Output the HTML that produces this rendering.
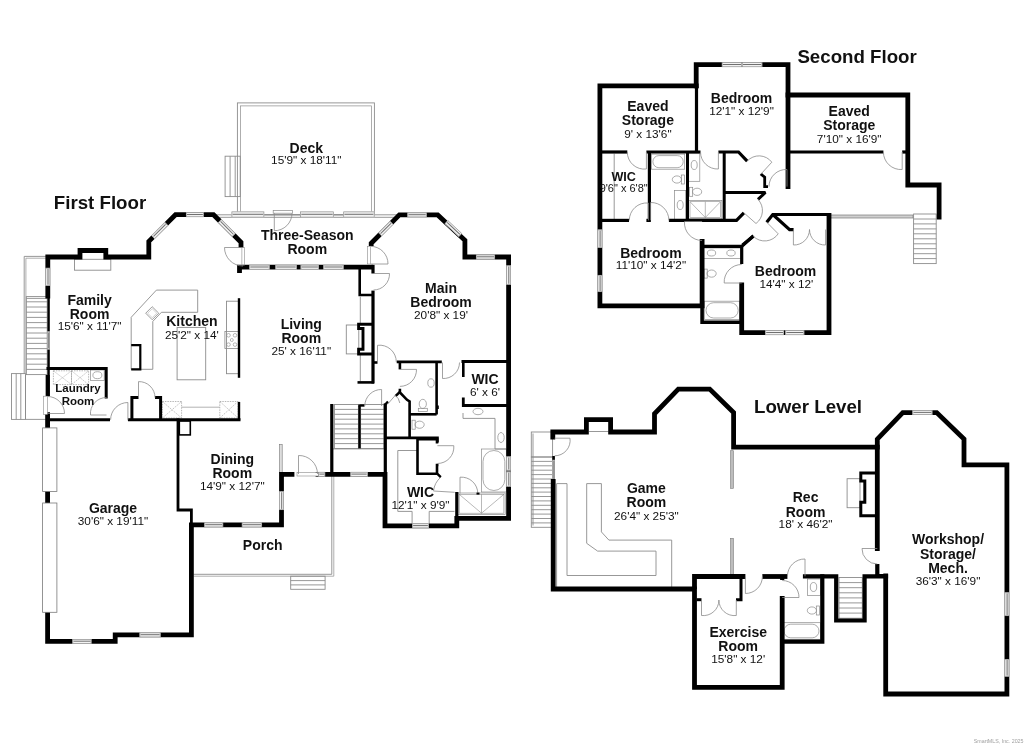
<!DOCTYPE html>
<html><head><meta charset="utf-8"><style>
html,body{margin:0;padding:0;background:#fff;}
body{width:1024px;height:745px;overflow:hidden;}
svg{display:block;font-family:"Liberation Sans",sans-serif;will-change:transform;}
</style></head><body>
<svg width="1024" height="745" viewBox="0 0 1024 745">
<rect width="1024" height="745" fill="#fff"/>
<rect x="237.4" y="102.9" width="137.0" height="111.9" fill="none" stroke="#8c8c8c" stroke-width="0.9"/>
<rect x="240.6" y="105.9" width="130.8" height="108.9" fill="none" stroke="#8c8c8c" stroke-width="0.7"/>
<rect x="225.1" y="156.2" width="15.1" height="40.4" fill="none" stroke="#8c8c8c" stroke-width="0.9"/>
<line x1="230.1" y1="156.2" x2="230.1" y2="196.6" stroke="#8c8c8c" stroke-width="0.9"/>
<line x1="235.2" y1="156.2" x2="235.2" y2="196.6" stroke="#8c8c8c" stroke-width="0.9"/>
<line x1="214.0" y1="214.8" x2="400.0" y2="214.8" stroke="#8c8c8c" stroke-width="0.9"/>
<line x1="214.0" y1="217.3" x2="400.0" y2="217.3" stroke="#8c8c8c" stroke-width="0.9"/>
<polyline points="47.0,256.4 24.2,256.4 24.2,373.6" fill="none" stroke="#8c8c8c" stroke-width="0.9"/>
<polyline points="46.0,258.2 25.9,258.2 25.9,373.6" fill="none" stroke="#8c8c8c" stroke-width="0.7"/>
<rect x="26.3" y="296.6" width="20.9" height="78.0" fill="none" stroke="#8c8c8c" stroke-width="0.9"/>
<line x1="26.3" y1="301.8" x2="47.2" y2="301.8" stroke="#8c8c8c" stroke-width="0.9"/>
<line x1="26.3" y1="307.0" x2="47.2" y2="307.0" stroke="#8c8c8c" stroke-width="0.9"/>
<line x1="26.3" y1="312.2" x2="47.2" y2="312.2" stroke="#8c8c8c" stroke-width="0.9"/>
<line x1="26.3" y1="317.4" x2="47.2" y2="317.4" stroke="#8c8c8c" stroke-width="0.9"/>
<line x1="26.3" y1="322.6" x2="47.2" y2="322.6" stroke="#8c8c8c" stroke-width="0.9"/>
<line x1="26.3" y1="327.8" x2="47.2" y2="327.8" stroke="#8c8c8c" stroke-width="0.9"/>
<line x1="26.3" y1="333.0" x2="47.2" y2="333.0" stroke="#8c8c8c" stroke-width="0.9"/>
<line x1="26.3" y1="338.2" x2="47.2" y2="338.2" stroke="#8c8c8c" stroke-width="0.9"/>
<line x1="26.3" y1="343.4" x2="47.2" y2="343.4" stroke="#8c8c8c" stroke-width="0.9"/>
<line x1="26.3" y1="348.6" x2="47.2" y2="348.6" stroke="#8c8c8c" stroke-width="0.9"/>
<line x1="26.3" y1="353.8" x2="47.2" y2="353.8" stroke="#8c8c8c" stroke-width="0.9"/>
<line x1="26.3" y1="359.0" x2="47.2" y2="359.0" stroke="#8c8c8c" stroke-width="0.9"/>
<line x1="26.3" y1="364.2" x2="47.2" y2="364.2" stroke="#8c8c8c" stroke-width="0.9"/>
<line x1="26.3" y1="369.4" x2="47.2" y2="369.4" stroke="#8c8c8c" stroke-width="0.9"/>
<line x1="26.3" y1="298.4" x2="47.2" y2="298.4" stroke="#8c8c8c" stroke-width="0.9"/>
<polyline points="25.5,374.8 25.5,419.4 47.0,419.4" fill="none" stroke="#8c8c8c" stroke-width="0.9"/>
<rect x="11.5" y="373.6" width="14.0" height="45.8" fill="none" stroke="#8c8c8c" stroke-width="0.9"/>
<line x1="16.2" y1="373.6" x2="16.2" y2="419.4" stroke="#8c8c8c" stroke-width="0.9"/>
<line x1="20.8" y1="373.6" x2="20.8" y2="419.4" stroke="#8c8c8c" stroke-width="0.9"/>
<rect x="74.5" y="259.3" width="36.3" height="10.9" fill="none" stroke="#8c8c8c" stroke-width="0.9"/>
<polygon points="156.4,290.1 197.7,290.1 197.7,312.3 161.4,312.3 152.8,321.4 152.8,369.3 131.2,369.3 131.2,317.3" fill="none" stroke="#8c8c8c" stroke-width="0.9"/>
<rect x="-4.6" y="-4.6" width="9.2" height="9.2" transform="translate(152.2,313.2) rotate(45)" fill="none" stroke="#8a8a8a" stroke-width="0.8"/>
<rect x="-3.2" y="-3.2" width="6.4" height="6.4" transform="translate(152.2,313.2) rotate(45)" fill="none" stroke="#aaa" stroke-width="0.5"/>
<polyline points="131.2,345.2 140.3,345.2 140.3,369.3 131.2,369.3" fill="none" stroke="#000" stroke-width="2.2" stroke-linejoin="miter" stroke-miterlimit="2.2" stroke-linecap="butt"/>
<rect x="177.1" y="327.4" width="28.6" height="52.4" fill="none" stroke="#8c8c8c" stroke-width="0.9"/>
<rect x="226.5" y="301.2" width="12.1" height="72.5" fill="none" stroke="#8c8c8c" stroke-width="0.9"/>
<rect x="224.9" y="331.4" width="13.7" height="17.1" fill="none" stroke="#8a8a8a" stroke-width="0.8"/>
<circle cx="228.5" cy="335.3" r="1.8" fill="none" stroke="#8a8a8a" stroke-width="0.6"/>
<circle cx="235" cy="335.3" r="1.8" fill="none" stroke="#8a8a8a" stroke-width="0.6"/>
<circle cx="228.5" cy="344.6" r="1.8" fill="none" stroke="#8a8a8a" stroke-width="0.6"/>
<circle cx="235" cy="344.6" r="1.8" fill="none" stroke="#8a8a8a" stroke-width="0.6"/>
<circle cx="231.8" cy="340" r="1.5" fill="none" stroke="#8a8a8a" stroke-width="0.6"/>
<rect x="162.4" y="401.5" width="19.2" height="16.5" fill="none" stroke="#9a9a9a" stroke-width="0.7" stroke-dasharray="1.5,1"/>
<path d="M162.4,401.5L181.6,418.0M181.6,401.5L162.4,418.0" stroke="#9a9a9a" stroke-width="0.6" stroke-dasharray="1.5,1"/>
<rect x="219.8" y="401.5" width="18.2" height="16.5" fill="none" stroke="#9a9a9a" stroke-width="0.7" stroke-dasharray="1.5,1"/>
<path d="M219.8,401.5L238.0,418.0M238.0,401.5L219.8,418.0" stroke="#9a9a9a" stroke-width="0.6" stroke-dasharray="1.5,1"/>
<line x1="181.6" y1="407.2" x2="219.8" y2="407.2" stroke="#a0a0a0" stroke-width="0.8"/>
<rect x="53.4" y="370.8" width="18.1" height="13.8" fill="none" stroke="#9a9a9a" stroke-width="0.7" stroke-dasharray="1.5,1"/>
<path d="M53.4,370.8L71.5,384.6M71.5,370.8L53.4,384.6" stroke="#9a9a9a" stroke-width="0.6" stroke-dasharray="1.5,1"/>
<rect x="71.5" y="370.8" width="17.1" height="13.8" fill="none" stroke="#9a9a9a" stroke-width="0.7" stroke-dasharray="1.5,1"/>
<path d="M71.5,370.8L88.6,384.6M88.6,370.8L71.5,384.6" stroke="#9a9a9a" stroke-width="0.6" stroke-dasharray="1.5,1"/>
<rect x="90.6" y="370.0" width="13.6" height="10.5" fill="none" stroke="#8a8a8a" stroke-width="0.7"/>
<ellipse cx="97.4" cy="375.2" rx="4.5" ry="3.5" fill="none" stroke="#8a8a8a" stroke-width="0.7"/>
<rect x="346.3" y="325.0" width="12.5" height="28.9" fill="none" stroke="#8c8c8c" stroke-width="0.9"/>
<line x1="360.3" y1="296.7" x2="360.3" y2="323.4" stroke="#8c8c8c" stroke-width="0.9"/>
<line x1="360.3" y1="354.7" x2="360.3" y2="381.3" stroke="#8c8c8c" stroke-width="0.9"/>
<rect x="334.4" y="404.5" width="24.0" height="44.0" fill="none" stroke="#8c8c8c" stroke-width="0.9"/>
<line x1="334.4" y1="409.4" x2="358.4" y2="409.4" stroke="#8c8c8c" stroke-width="0.9"/>
<line x1="334.4" y1="414.3" x2="358.4" y2="414.3" stroke="#8c8c8c" stroke-width="0.9"/>
<line x1="334.4" y1="419.2" x2="358.4" y2="419.2" stroke="#8c8c8c" stroke-width="0.9"/>
<line x1="334.4" y1="424.1" x2="358.4" y2="424.1" stroke="#8c8c8c" stroke-width="0.9"/>
<line x1="334.4" y1="428.9" x2="358.4" y2="428.9" stroke="#8c8c8c" stroke-width="0.9"/>
<line x1="334.4" y1="433.8" x2="358.4" y2="433.8" stroke="#8c8c8c" stroke-width="0.9"/>
<line x1="334.4" y1="438.7" x2="358.4" y2="438.7" stroke="#8c8c8c" stroke-width="0.9"/>
<line x1="334.4" y1="443.6" x2="358.4" y2="443.6" stroke="#8c8c8c" stroke-width="0.9"/>
<rect x="360.6" y="404.5" width="23.4" height="44.0" fill="none" stroke="#8c8c8c" stroke-width="0.9"/>
<line x1="360.6" y1="409.4" x2="384.0" y2="409.4" stroke="#8c8c8c" stroke-width="0.9"/>
<line x1="360.6" y1="414.3" x2="384.0" y2="414.3" stroke="#8c8c8c" stroke-width="0.9"/>
<line x1="360.6" y1="419.2" x2="384.0" y2="419.2" stroke="#8c8c8c" stroke-width="0.9"/>
<line x1="360.6" y1="424.1" x2="384.0" y2="424.1" stroke="#8c8c8c" stroke-width="0.9"/>
<line x1="360.6" y1="428.9" x2="384.0" y2="428.9" stroke="#8c8c8c" stroke-width="0.9"/>
<line x1="360.6" y1="433.8" x2="384.0" y2="433.8" stroke="#8c8c8c" stroke-width="0.9"/>
<line x1="360.6" y1="438.7" x2="384.0" y2="438.7" stroke="#8c8c8c" stroke-width="0.9"/>
<line x1="360.6" y1="443.6" x2="384.0" y2="443.6" stroke="#8c8c8c" stroke-width="0.9"/>
<line x1="331.8" y1="448.9" x2="384.0" y2="448.9" stroke="#8c8c8c" stroke-width="0.9"/>
<g transform="translate(422.8,405.5) rotate(180)" fill="none" stroke="#8a8a8a" stroke-width="0.7"><rect x="-4.5" y="-6" width="9" height="3.2"/><ellipse cx="0" cy="1.6" rx="3.6" ry="4.6"/></g>
<ellipse cx="431.0" cy="383.0" rx="3.2" ry="4.2" fill="none" stroke="#8a8a8a" stroke-width="0.7"/>
<g transform="translate(418.0,424.7) rotate(-90)" fill="none" stroke="#8a8a8a" stroke-width="0.7"><rect x="-4.5" y="-6" width="9" height="3.2"/><ellipse cx="0" cy="1.6" rx="3.6" ry="4.6"/></g>
<polyline points="463.0,413.0 463.0,418.4 495.0,418.4 495.0,449.0 506.0,449.0" fill="none" stroke="#8c8c8c" stroke-width="0.9"/>
<ellipse cx="478.0" cy="411.5" rx="5" ry="3.2" fill="none" stroke="#8a8a8a" stroke-width="0.7"/>
<ellipse cx="501.0" cy="437.5" rx="3.2" ry="5" fill="none" stroke="#8a8a8a" stroke-width="0.7"/>
<rect x="481.5" y="449.0" width="24.8" height="43.0" fill="none" stroke="#8a8a8a" stroke-width="0.7"/>
<rect x="483.0" y="450.5" width="21.8" height="40.0" rx="10.9" fill="none" stroke="#8a8a8a" stroke-width="0.7"/>
<rect x="457.9" y="493.0" width="47.3" height="21.5" fill="none" stroke="#8a8a8a" stroke-width="0.7"/>
<rect x="459.2" y="494.3" width="44.7" height="18.9" fill="none" stroke="#8a8a8a" stroke-width="0.6"/>
<path d="M459.2,494.3L481.5,513.2L503.9,494.3M481.5,494.3L481.5,513.2" fill="none" stroke="#8a8a8a" stroke-width="0.6"/>
<polyline points="417.0,450.5 397.8,450.5 397.8,511.4 412.1,511.4 412.1,523.7" fill="none" stroke="#8c8c8c" stroke-width="0.9"/>
<polyline points="429.2,523.7 429.2,511.4 454.5,511.4" fill="none" stroke="#8c8c8c" stroke-width="0.9"/>
<polyline points="193.5,574.3 331.8,574.3 331.8,476.0" fill="none" stroke="#8c8c8c" stroke-width="0.9"/>
<polyline points="193.5,576.2 333.8,576.2 333.8,476.0" fill="none" stroke="#8c8c8c" stroke-width="0.7"/>
<rect x="290.7" y="576.2" width="34.4" height="13.1" fill="none" stroke="#8c8c8c" stroke-width="0.9"/>
<line x1="290.7" y1="580.6" x2="325.1" y2="580.6" stroke="#8c8c8c" stroke-width="0.9"/>
<line x1="290.7" y1="584.9" x2="325.1" y2="584.9" stroke="#8c8c8c" stroke-width="0.9"/>
<rect x="279.4" y="444.3" width="2.8" height="28.2" fill="#ddd" stroke="#7a7a7a" stroke-width="0.6"/>
<polyline points="47.8,296.0 47.8,257.0 80.0,257.0 80.0,250.5 105.8,250.5 105.8,257.0 148.8,257.0 148.8,241.4 175.5,214.7 213.5,214.7 241.0,242.3 241.0,245.3" fill="none" stroke="#000" stroke-width="4.8" stroke-linejoin="miter" stroke-miterlimit="2.2" stroke-linecap="square"/>
<polyline points="48.6,296.0 48.6,375.0" fill="none" stroke="#000" stroke-width="2.4" stroke-linejoin="miter" stroke-miterlimit="2.2" stroke-linecap="butt"/>
<polyline points="47.8,375.0 47.8,396.2" fill="none" stroke="#000" stroke-width="4.3" stroke-linejoin="miter" stroke-miterlimit="2.2" stroke-linecap="butt"/>
<polyline points="47.6,414.6 47.6,641.4 115.2,641.4 115.2,634.9 191.4,634.9 191.4,524.9 281.5,524.9 281.5,474.3 292.0,474.3" fill="none" stroke="#000" stroke-width="4.8" stroke-linejoin="miter" stroke-miterlimit="2.2" stroke-linecap="square"/>
<polyline points="318.0,474.3 385.0,474.3 385.0,525.8 456.8,525.8 456.8,518.3 508.6,518.3 508.6,257.0 464.9,257.0 464.9,240.3 437.7,214.9 399.4,214.9 371.2,243.3 371.2,243.6" fill="none" stroke="#000" stroke-width="4.8" stroke-linejoin="miter" stroke-miterlimit="2.2" stroke-linecap="square"/>
<polyline points="239.5,273.0 239.5,267.2 373.0,267.2" fill="none" stroke="#000" stroke-width="4.8" stroke-linejoin="miter" stroke-miterlimit="2.2" stroke-linecap="butt"/>
<polyline points="373.0,264.8 373.0,273.5" fill="none" stroke="#000" stroke-width="3.2" stroke-linejoin="miter" stroke-miterlimit="2.2" stroke-linecap="butt"/>
<polyline points="373.0,290.6 373.0,383.5" fill="none" stroke="#000" stroke-width="3.2" stroke-linejoin="miter" stroke-miterlimit="2.2" stroke-linecap="butt"/>
<polyline points="359.7,269.0 359.7,295.0 373.0,295.0" fill="none" stroke="#000" stroke-width="2.6" stroke-linejoin="miter" stroke-miterlimit="2.2" stroke-linecap="butt"/>
<polyline points="372.0,324.2 358.6,324.2 358.6,328.5 363.0,328.5 363.0,349.2 358.6,349.2 358.6,354.0 372.0,354.0" fill="none" stroke="#000" stroke-width="2.9" stroke-linejoin="miter" stroke-miterlimit="2.2" stroke-linecap="butt"/>
<polyline points="357.5,382.4 374.0,382.4" fill="none" stroke="#000" stroke-width="2.6" stroke-linejoin="miter" stroke-miterlimit="2.2" stroke-linecap="butt"/>
<polyline points="239.0,298.2 239.0,377.8" fill="none" stroke="#000" stroke-width="2.4" stroke-linejoin="miter" stroke-miterlimit="2.2" stroke-linecap="butt"/>
<polyline points="239.0,401.9 239.0,419.8" fill="none" stroke="#000" stroke-width="2.4" stroke-linejoin="miter" stroke-miterlimit="2.2" stroke-linecap="butt"/>
<polyline points="48.0,368.5 106.2,368.5 106.2,397.0" fill="none" stroke="#000" stroke-width="3" stroke-linejoin="miter" stroke-miterlimit="2.2" stroke-linecap="square"/>
<polyline points="48.0,419.8 110.0,419.8" fill="none" stroke="#000" stroke-width="3" stroke-linejoin="miter" stroke-miterlimit="2.2" stroke-linecap="butt"/>
<polyline points="127.9,419.8 240.5,419.8" fill="none" stroke="#000" stroke-width="3" stroke-linejoin="miter" stroke-miterlimit="2.2" stroke-linecap="butt"/>
<polyline points="131.9,419.8 131.9,397.6 138.5,397.6" fill="none" stroke="#000" stroke-width="3" stroke-linejoin="miter" stroke-miterlimit="2.2" stroke-linecap="butt"/>
<polyline points="155.0,397.6 160.6,397.6 160.6,419.8" fill="none" stroke="#000" stroke-width="3" stroke-linejoin="miter" stroke-miterlimit="2.2" stroke-linecap="butt"/>
<polyline points="178.0,419.8 178.0,510.0 191.4,510.0 191.4,525.0" fill="none" stroke="#000" stroke-width="2.8" stroke-linejoin="miter" stroke-miterlimit="2.2" stroke-linecap="square"/>
<rect x="179.3" y="421.0" width="11.0" height="13.9" fill="none" stroke="#000" stroke-width="1.6"/>
<polyline points="331.8,404.0 331.8,474.3" fill="none" stroke="#000" stroke-width="3.2" stroke-linejoin="miter" stroke-miterlimit="2.2" stroke-linecap="butt"/>
<polyline points="359.5,405.5 359.5,448.5" fill="none" stroke="#000" stroke-width="2.4" stroke-linejoin="miter" stroke-miterlimit="2.2" stroke-linecap="butt"/>
<polyline points="358.5,405.5 364.5,405.5" fill="none" stroke="#000" stroke-width="2.4" stroke-linejoin="miter" stroke-miterlimit="2.2" stroke-linecap="butt"/>
<polyline points="385.3,403.4 385.3,474.3" fill="none" stroke="#000" stroke-width="3.2" stroke-linejoin="miter" stroke-miterlimit="2.2" stroke-linecap="butt"/>
<polyline points="385.3,404.5 388.0,401.5" fill="none" stroke="#000" stroke-width="2.4" stroke-linejoin="miter" stroke-miterlimit="2.2" stroke-linecap="butt"/>
<polyline points="399.9,391.8 395.5,396.2" fill="none" stroke="#000" stroke-width="2.6" stroke-linejoin="miter" stroke-miterlimit="2.2" stroke-linecap="butt"/>
<polyline points="374.0,362.5 377.5,362.5" fill="none" stroke="#000" stroke-width="2.6" stroke-linejoin="miter" stroke-miterlimit="2.2" stroke-linecap="butt"/>
<polyline points="396.7,361.9 441.8,361.9" fill="none" stroke="#000" stroke-width="2.8" stroke-linejoin="miter" stroke-miterlimit="2.2" stroke-linecap="butt"/>
<polyline points="399.9,361.9 399.9,369.4" fill="none" stroke="#000" stroke-width="2.6" stroke-linejoin="miter" stroke-miterlimit="2.2" stroke-linecap="butt"/>
<polyline points="399.9,388.8 399.9,392.4 407.0,399.8 409.6,401.5 409.6,437.9" fill="none" stroke="#000" stroke-width="2.6" stroke-linejoin="miter" stroke-miterlimit="2.2" stroke-linecap="butt"/>
<polyline points="436.6,361.9 436.6,414.5" fill="none" stroke="#000" stroke-width="2.6" stroke-linejoin="miter" stroke-miterlimit="2.2" stroke-linecap="butt"/>
<polyline points="409.6,414.3 436.6,414.3" fill="none" stroke="#000" stroke-width="2.6" stroke-linejoin="miter" stroke-miterlimit="2.2" stroke-linecap="butt"/>
<polyline points="437.5,405.5 437.5,409.0" fill="none" stroke="#000" stroke-width="2.6" stroke-linejoin="miter" stroke-miterlimit="2.2" stroke-linecap="butt"/>
<polyline points="385.5,437.9 437.5,437.9 437.5,442.5" fill="none" stroke="#000" stroke-width="2.6" stroke-linejoin="miter" stroke-miterlimit="2.2" stroke-linecap="butt"/>
<polyline points="437.0,443.5 437.0,439.3 417.5,439.3 417.5,473.7 437.0,473.7 437.0,465.0 438.5,465.0" fill="none" stroke="#000" stroke-width="2.6" stroke-linejoin="miter" stroke-miterlimit="2.2" stroke-linecap="butt"/>
<polyline points="461.5,361.5 508.6,361.5" fill="none" stroke="#000" stroke-width="2.8" stroke-linejoin="miter" stroke-miterlimit="2.2" stroke-linecap="butt"/>
<polyline points="463.3,361.5 463.3,377.0" fill="none" stroke="#000" stroke-width="2.6" stroke-linejoin="miter" stroke-miterlimit="2.2" stroke-linecap="butt"/>
<polyline points="463.3,397.5 463.3,405.5 508.6,405.5" fill="none" stroke="#000" stroke-width="2.8" stroke-linejoin="miter" stroke-miterlimit="2.2" stroke-linecap="butt"/>
<polyline points="456.8,492.0 456.8,518.3" fill="none" stroke="#000" stroke-width="3.2" stroke-linejoin="miter" stroke-miterlimit="2.2" stroke-linecap="butt"/>
<g transform="translate(47.8,276.8) rotate(90.00)"><rect x="-8.9" y="-2.40" width="17.9" height="4.80" fill="#fff" stroke="none"/><rect x="-8.6" y="-2.05" width="17.3" height="4.10" fill="#f2f2f2" stroke="#8c8c8c" stroke-width="0.7"/><line x1="-7.9" y1="-0.2" x2="7.9" y2="-0.2" stroke="#707070" stroke-width="1.0"/></g>
<g transform="translate(48.5,340.4) rotate(90.00)"><rect x="-8.9" y="-1.40" width="17.9" height="2.80" fill="#fff" stroke="none"/><rect x="-8.6" y="-1.05" width="17.3" height="2.10" fill="#f2f2f2" stroke="#8c8c8c" stroke-width="0.7"/><line x1="-7.9" y1="-0.2" x2="7.9" y2="-0.2" stroke="#707070" stroke-width="1.0"/></g>
<g transform="translate(159.7,230.6) rotate(-45.00)"><rect x="-9.5" y="-2.40" width="19.1" height="4.80" fill="#fff" stroke="none"/><rect x="-9.2" y="-2.05" width="18.5" height="4.10" fill="#f2f2f2" stroke="#8c8c8c" stroke-width="0.7"/><line x1="-8.5" y1="-0.2" x2="8.5" y2="-0.2" stroke="#707070" stroke-width="1.0"/></g>
<g transform="translate(194.9,214.7) rotate(0.00)"><rect x="-8.9" y="-2.40" width="17.7" height="4.80" fill="#fff" stroke="none"/><rect x="-8.6" y="-2.05" width="17.1" height="4.10" fill="#f2f2f2" stroke="#8c8c8c" stroke-width="0.7"/><line x1="-7.9" y1="-0.2" x2="7.9" y2="-0.2" stroke="#707070" stroke-width="1.0"/></g>
<g transform="translate(226.8,228.0) rotate(45.20)"><rect x="-10.0" y="-2.40" width="20.0" height="4.80" fill="#fff" stroke="none"/><rect x="-9.7" y="-2.05" width="19.4" height="4.10" fill="#f2f2f2" stroke="#8c8c8c" stroke-width="0.7"/><line x1="-9.0" y1="-0.2" x2="9.0" y2="-0.2" stroke="#707070" stroke-width="1.0"/></g>
<g transform="translate(259.4,267.2) rotate(0.00)"><rect x="-10.1" y="-2.40" width="20.2" height="4.80" fill="#fff" stroke="none"/><rect x="-9.8" y="-2.05" width="19.6" height="4.10" fill="#f2f2f2" stroke="#8c8c8c" stroke-width="0.7"/><line x1="-9.1" y1="-0.2" x2="9.1" y2="-0.2" stroke="#707070" stroke-width="1.0"/></g>
<g transform="translate(286.1,267.2) rotate(0.00)"><rect x="-10.6" y="-2.40" width="21.2" height="4.80" fill="#fff" stroke="none"/><rect x="-10.3" y="-2.05" width="20.6" height="4.10" fill="#f2f2f2" stroke="#8c8c8c" stroke-width="0.7"/><line x1="-9.6" y1="-0.2" x2="9.6" y2="-0.2" stroke="#707070" stroke-width="1.0"/></g>
<g transform="translate(309.8,267.2) rotate(0.00)"><rect x="-9.1" y="-2.40" width="18.1" height="4.80" fill="#fff" stroke="none"/><rect x="-8.8" y="-2.05" width="17.5" height="4.10" fill="#f2f2f2" stroke="#8c8c8c" stroke-width="0.7"/><line x1="-8.1" y1="-0.2" x2="8.1" y2="-0.2" stroke="#707070" stroke-width="1.0"/></g>
<g transform="translate(333.4,267.2) rotate(0.00)"><rect x="-10.0" y="-2.40" width="20.1" height="4.80" fill="#fff" stroke="none"/><rect x="-9.7" y="-2.05" width="19.5" height="4.10" fill="#f2f2f2" stroke="#8c8c8c" stroke-width="0.7"/><line x1="-9.0" y1="-0.2" x2="9.0" y2="-0.2" stroke="#707070" stroke-width="1.0"/></g>
<g transform="translate(247.9,214.5) rotate(0.00)"><rect x="-16.3" y="-3.00" width="32.6" height="6.00" fill="#fff" stroke="none"/><rect x="-16.0" y="-2.65" width="32.0" height="5.30" fill="#f2f2f2" stroke="#8c8c8c" stroke-width="0.7"/><line x1="-15.3" y1="-0.2" x2="15.3" y2="-0.2" stroke="#707070" stroke-width="1.0"/></g>
<g transform="translate(317.0,214.5) rotate(0.00)"><rect x="-16.7" y="-3.00" width="33.3" height="6.00" fill="#fff" stroke="none"/><rect x="-16.4" y="-2.65" width="32.7" height="5.30" fill="#f2f2f2" stroke="#8c8c8c" stroke-width="0.7"/><line x1="-15.7" y1="-0.2" x2="15.7" y2="-0.2" stroke="#707070" stroke-width="1.0"/></g>
<g transform="translate(358.9,214.5) rotate(0.00)"><rect x="-15.5" y="-3.00" width="31.1" height="6.00" fill="#fff" stroke="none"/><rect x="-15.2" y="-2.65" width="30.5" height="5.30" fill="#f2f2f2" stroke="#8c8c8c" stroke-width="0.7"/><line x1="-14.5" y1="-0.2" x2="14.5" y2="-0.2" stroke="#707070" stroke-width="1.0"/></g>
<g transform="translate(385.9,228.6) rotate(-45.00)"><rect x="-8.3" y="-2.40" width="16.5" height="4.80" fill="#fff" stroke="none"/><rect x="-8.0" y="-2.05" width="15.9" height="4.10" fill="#f2f2f2" stroke="#8c8c8c" stroke-width="0.7"/><line x1="-7.3" y1="-0.2" x2="7.3" y2="-0.2" stroke="#707070" stroke-width="1.0"/></g>
<g transform="translate(417.1,214.9) rotate(0.00)"><rect x="-9.6" y="-2.40" width="19.1" height="4.80" fill="#fff" stroke="none"/><rect x="-9.3" y="-2.05" width="18.5" height="4.10" fill="#f2f2f2" stroke="#8c8c8c" stroke-width="0.7"/><line x1="-8.6" y1="-0.2" x2="8.6" y2="-0.2" stroke="#707070" stroke-width="1.0"/></g>
<g transform="translate(453.4,228.5) rotate(42.91)"><rect x="-9.7" y="-2.40" width="19.4" height="4.80" fill="#fff" stroke="none"/><rect x="-9.4" y="-2.05" width="18.8" height="4.10" fill="#f2f2f2" stroke="#8c8c8c" stroke-width="0.7"/><line x1="-8.7" y1="-0.2" x2="8.7" y2="-0.2" stroke="#707070" stroke-width="1.0"/></g>
<g transform="translate(485.5,257.0) rotate(0.00)"><rect x="-9.5" y="-2.40" width="19.0" height="4.80" fill="#fff" stroke="none"/><rect x="-9.2" y="-2.05" width="18.4" height="4.10" fill="#f2f2f2" stroke="#8c8c8c" stroke-width="0.7"/><line x1="-8.5" y1="-0.2" x2="8.5" y2="-0.2" stroke="#707070" stroke-width="1.0"/></g>
<g transform="translate(508.6,275.1) rotate(90.00)"><rect x="-9.6" y="-2.40" width="19.1" height="4.80" fill="#fff" stroke="none"/><rect x="-9.3" y="-2.05" width="18.5" height="4.10" fill="#f2f2f2" stroke="#8c8c8c" stroke-width="0.7"/><line x1="-8.6" y1="-0.2" x2="8.6" y2="-0.2" stroke="#707070" stroke-width="1.0"/></g>
<g transform="translate(508.6,463.5) rotate(90.00)"><rect x="-7.0" y="-2.40" width="14.0" height="4.80" fill="#fff" stroke="none"/><rect x="-6.7" y="-2.05" width="13.4" height="4.10" fill="#f2f2f2" stroke="#8c8c8c" stroke-width="0.7"/><line x1="-6.0" y1="-0.2" x2="6.0" y2="-0.2" stroke="#707070" stroke-width="1.0"/></g>
<g transform="translate(508.6,479.1) rotate(90.00)"><rect x="-7.5" y="-2.40" width="15.0" height="4.80" fill="#fff" stroke="none"/><rect x="-7.2" y="-2.05" width="14.4" height="4.10" fill="#f2f2f2" stroke="#8c8c8c" stroke-width="0.7"/><line x1="-6.5" y1="-0.2" x2="6.5" y2="-0.2" stroke="#707070" stroke-width="1.0"/></g>
<g transform="translate(420.5,525.8) rotate(0.00)"><rect x="-8.4" y="-2.40" width="16.8" height="4.80" fill="#fff" stroke="none"/><rect x="-8.1" y="-2.05" width="16.2" height="4.10" fill="#f2f2f2" stroke="#8c8c8c" stroke-width="0.7"/><line x1="-7.4" y1="-0.2" x2="7.4" y2="-0.2" stroke="#707070" stroke-width="1.0"/></g>
<g transform="translate(359.1,474.3) rotate(0.00)"><rect x="-8.6" y="-2.40" width="17.2" height="4.80" fill="#fff" stroke="none"/><rect x="-8.3" y="-2.05" width="16.6" height="4.10" fill="#f2f2f2" stroke="#8c8c8c" stroke-width="0.7"/><line x1="-7.6" y1="-0.2" x2="7.6" y2="-0.2" stroke="#707070" stroke-width="1.0"/></g>
<g transform="translate(321.8,474.3) rotate(0.00)"><rect x="-3.4" y="-2.40" width="6.7" height="4.80" fill="#fff" stroke="none"/><rect x="-3.1" y="-2.05" width="6.1" height="4.10" fill="#f2f2f2" stroke="#8c8c8c" stroke-width="0.7"/><line x1="-2.4" y1="-0.2" x2="2.4" y2="-0.2" stroke="#707070" stroke-width="1.0"/></g>
<g transform="translate(281.5,500.6) rotate(90.00)"><rect x="-9.3" y="-2.40" width="18.7" height="4.80" fill="#fff" stroke="none"/><rect x="-9.0" y="-2.05" width="18.1" height="4.10" fill="#f2f2f2" stroke="#8c8c8c" stroke-width="0.7"/><line x1="-8.3" y1="-0.2" x2="8.3" y2="-0.2" stroke="#707070" stroke-width="1.0"/></g>
<g transform="translate(213.7,524.9) rotate(0.00)"><rect x="-9.4" y="-2.40" width="18.8" height="4.80" fill="#fff" stroke="none"/><rect x="-9.1" y="-2.05" width="18.2" height="4.10" fill="#f2f2f2" stroke="#8c8c8c" stroke-width="0.7"/><line x1="-8.4" y1="-0.2" x2="8.4" y2="-0.2" stroke="#707070" stroke-width="1.0"/></g>
<g transform="translate(251.9,524.9) rotate(0.00)"><rect x="-10.0" y="-2.40" width="20.1" height="4.80" fill="#fff" stroke="none"/><rect x="-9.7" y="-2.05" width="19.5" height="4.10" fill="#f2f2f2" stroke="#8c8c8c" stroke-width="0.7"/><line x1="-9.0" y1="-0.2" x2="9.0" y2="-0.2" stroke="#707070" stroke-width="1.0"/></g>
<g transform="translate(82.0,641.4) rotate(0.00)"><rect x="-9.5" y="-2.40" width="18.9" height="4.80" fill="#fff" stroke="none"/><rect x="-9.2" y="-2.05" width="18.3" height="4.10" fill="#f2f2f2" stroke="#8c8c8c" stroke-width="0.7"/><line x1="-8.5" y1="-0.2" x2="8.5" y2="-0.2" stroke="#707070" stroke-width="1.0"/></g>
<g transform="translate(150.1,634.9) rotate(0.00)"><rect x="-10.5" y="-2.40" width="20.9" height="4.80" fill="#fff" stroke="none"/><rect x="-10.2" y="-2.05" width="20.3" height="4.10" fill="#f2f2f2" stroke="#8c8c8c" stroke-width="0.7"/><line x1="-9.5" y1="-0.2" x2="9.5" y2="-0.2" stroke="#707070" stroke-width="1.0"/></g>
<rect x="42.6" y="427.9" width="14.3" height="63.6" fill="#fff" stroke="#7a7a7a" stroke-width="0.8"/>
<rect x="42.6" y="503.0" width="14.3" height="109.3" fill="#fff" stroke="#7a7a7a" stroke-width="0.8"/>
<rect x="297.0" y="472.6" width="21.4" height="3.4" fill="#fff" stroke="#8a8a8a" stroke-width="0.6"/>
<rect x="273.2" y="210.4" width="19.2" height="2.8" fill="#fff" stroke="#8a8a8a" stroke-width="0.7"/>
<path d="M274.3,213.2 L274.3,230.7 A17.5,17.5 0 0 0 292.0,213.2" fill="none" stroke="#8a8a8a" stroke-width="0.8"/>
<path d="M243.0,247.5 L224.5,247.5 A18.5,18.5 0 0 0 243.0,266.0" fill="none" stroke="#8a8a8a" stroke-width="0.8"/>
<rect x="241.9" y="247.5" width="2.4" height="17.7" fill="none" stroke="#8a8a8a" stroke-width="0.6"/>
<path d="M370.5,264.0 L388.0,264.0 A17.5,17.5 0 0 0 370.5,246.3" fill="none" stroke="#8a8a8a" stroke-width="0.8"/>
<rect x="367.6" y="246.3" width="2.9" height="17.7" fill="none" stroke="#8a8a8a" stroke-width="0.6"/>
<path d="M373.5,273.5 L389.5,273.5 A16.0,16.0 0 0 1 373.5,290.0" fill="none" stroke="#8a8a8a" stroke-width="0.8"/>
<path d="M377.5,362.0 L377.5,345.3 A16.7,16.7 0 0 1 396.3,362.0" fill="none" stroke="#8a8a8a" stroke-width="0.8"/>
<path d="M399.9,369.4 L416.5,369.4 A16.6,16.6 0 0 1 399.9,386.4" fill="none" stroke="#8a8a8a" stroke-width="0.8"/>
<path d="M381.6,406.0 L381.6,389.5 A16.5,16.5 0 0 0 364.8,406.0" fill="none" stroke="#8a8a8a" stroke-width="0.8"/>
<path d="M138.5,397.6 L138.5,381.6 A16.0,16.0 0 0 1 155.0,397.6" fill="none" stroke="#8a8a8a" stroke-width="0.8"/>
<path d="M106.5,415.0 L90.5,415.0 A16.0,16.0 0 0 1 106.5,397.5" fill="none" stroke="#8a8a8a" stroke-width="0.8"/>
<path d="M47.5,413.5 L64.5,413.5 A17.0,17.0 0 0 0 47.5,396.5" fill="none" stroke="#8a8a8a" stroke-width="0.8"/>
<path d="M127.9,419.8 L127.9,402.5 A17.3,17.3 0 0 0 110.6,419.8" fill="none" stroke="#8a8a8a" stroke-width="0.8"/>
<path d="M298.5,474.0 L298.5,455.5 A18.5,18.5 0 0 1 317.5,474.0" fill="none" stroke="#8a8a8a" stroke-width="0.8"/>
<path d="M442.5,362.5 L442.5,378.5 A16.0,16.0 0 0 0 459.5,362.5" fill="none" stroke="#8a8a8a" stroke-width="0.8"/>
<path d="M437.4,445.7 L453.8,445.7 A16.4,16.4 0 0 1 437.4,463.5" fill="none" stroke="#8a8a8a" stroke-width="0.8"/>
<path d="M454.7,492.3 L433.5,491.0 A21.2,21.2 0 0 1 440.8,477.2" fill="none" stroke="#8a8a8a" stroke-width="0.8"/>
<path d="M460.0,493.6 L460.0,477.2 A16.4,16.4 0 0 1 477.8,493.6" fill="none" stroke="#8a8a8a" stroke-width="0.8"/>
<polyline points="437.4,473.8 440.8,477.2" fill="none" stroke="#000" stroke-width="2.4" stroke-linejoin="miter" stroke-miterlimit="2.2" stroke-linecap="butt"/>
<polyline points="476.5,493.6 479.5,493.6" fill="none" stroke="#000" stroke-width="2.0" stroke-linejoin="miter" stroke-miterlimit="2.2" stroke-linecap="butt"/>
<path d="M387.5,404.3 L395.3,395.3 A11.9,11.9 0 0 1 399.8,403.0" fill="none" stroke="#8a8a8a" stroke-width="0.8"/>
<rect x="43.4" y="396.2" width="4.0" height="18.2" fill="#fff" stroke="#8a8a8a" stroke-width="0.6"/>
<text x="53.8" y="209.0" font-size="18.7" font-weight="bold" text-anchor="start" fill="#111">First Floor</text>
<text x="306.3" y="152.7" font-size="14" font-weight="bold" text-anchor="middle" fill="#111">Deck</text>
<text x="306.3" y="164.3" font-size="11.8" font-weight="normal" text-anchor="middle" fill="#111">15'9&quot; x 18'11&quot;</text>
<text x="307.3" y="239.9" font-size="14" font-weight="bold" text-anchor="middle" fill="#111">Three-Season</text>
<text x="307.3" y="254.0" font-size="14" font-weight="bold" text-anchor="middle" fill="#111">Room</text>
<text x="89.6" y="305.0" font-size="14" font-weight="bold" text-anchor="middle" fill="#111">Family</text>
<text x="89.6" y="319.1" font-size="14" font-weight="bold" text-anchor="middle" fill="#111">Room</text>
<text x="89.6" y="330.3" font-size="11.8" font-weight="normal" text-anchor="middle" fill="#111">15'6&quot; x 11'7&quot;</text>
<text x="191.9" y="326.4" font-size="14" font-weight="bold" text-anchor="middle" fill="#111">Kitchen</text>
<text x="191.9" y="338.6" font-size="11.8" font-weight="normal" text-anchor="middle" fill="#111">25'2&quot; x 14'</text>
<text x="301.3" y="328.9" font-size="14" font-weight="bold" text-anchor="middle" fill="#111">Living</text>
<text x="301.3" y="343.0" font-size="14" font-weight="bold" text-anchor="middle" fill="#111">Room</text>
<text x="301.3" y="354.7" font-size="11.8" font-weight="normal" text-anchor="middle" fill="#111">25' x 16'11&quot;</text>
<text x="441.0" y="292.6" font-size="14" font-weight="bold" text-anchor="middle" fill="#111">Main</text>
<text x="441.0" y="307.1" font-size="14" font-weight="bold" text-anchor="middle" fill="#111">Bedroom</text>
<text x="441.0" y="319.3" font-size="11.8" font-weight="normal" text-anchor="middle" fill="#111">20'8&quot; x 19'</text>
<text x="485.0" y="384.0" font-size="14" font-weight="bold" text-anchor="middle" fill="#111">WIC</text>
<text x="485.0" y="396.3" font-size="11.8" font-weight="normal" text-anchor="middle" fill="#111">6' x 6'</text>
<text x="78.0" y="392.3" font-size="11.5" font-weight="bold" text-anchor="middle" fill="#111">Laundry</text>
<text x="78.0" y="404.7" font-size="11.5" font-weight="bold" text-anchor="middle" fill="#111">Room</text>
<text x="420.5" y="496.9" font-size="14" font-weight="bold" text-anchor="middle" fill="#111">WIC</text>
<text x="420.5" y="509.2" font-size="11.8" font-weight="normal" text-anchor="middle" fill="#111">12'1&quot; x 9'9&quot;</text>
<text x="232.3" y="463.8" font-size="14" font-weight="bold" text-anchor="middle" fill="#111">Dining</text>
<text x="232.3" y="477.9" font-size="14" font-weight="bold" text-anchor="middle" fill="#111">Room</text>
<text x="232.3" y="490.2" font-size="11.8" font-weight="normal" text-anchor="middle" fill="#111">14'9&quot; x 12'7&quot;</text>
<text x="262.7" y="550.3" font-size="14" font-weight="bold" text-anchor="middle" fill="#111">Porch</text>
<text x="113.0" y="513.4" font-size="14" font-weight="bold" text-anchor="middle" fill="#111">Garage</text>
<text x="113.0" y="525.4" font-size="11.8" font-weight="normal" text-anchor="middle" fill="#111">30'6&quot; x 19'11&quot;</text>
<rect x="651.4" y="154.1" width="33.3" height="15.1" fill="none" stroke="#8a8a8a" stroke-width="0.7"/>
<rect x="652.9" y="155.6" width="30.3" height="12.1" rx="6.0" fill="none" stroke="#8a8a8a" stroke-width="0.7"/>
<g transform="translate(678.5,179.5) rotate(90)" fill="none" stroke="#8a8a8a" stroke-width="0.7"><rect x="-4.5" y="-6" width="9" height="3.2"/><ellipse cx="0" cy="1.6" rx="3.6" ry="4.6"/></g>
<rect x="674.6" y="190.4" width="11.1" height="29.2" fill="none" stroke="#8a8a8a" stroke-width="0.7"/>
<ellipse cx="680.2" cy="205.0" rx="3" ry="4.5" fill="none" stroke="#8a8a8a" stroke-width="0.7"/>
<rect x="688.7" y="153.7" width="11.1" height="27.6" fill="none" stroke="#8a8a8a" stroke-width="0.7"/>
<ellipse cx="694.2" cy="165.0" rx="3" ry="4.5" fill="none" stroke="#8a8a8a" stroke-width="0.7"/>
<g transform="translate(695.5,191.8) rotate(-90)" fill="none" stroke="#8a8a8a" stroke-width="0.7"><rect x="-4.5" y="-6" width="9" height="3.2"/><ellipse cx="0" cy="1.6" rx="3.6" ry="4.6"/></g>
<rect x="688.7" y="200.4" width="33.2" height="18.4" fill="none" stroke="#8a8a8a" stroke-width="0.7"/>
<rect x="690.0" y="201.7" width="30.6" height="15.8" fill="none" stroke="#8a8a8a" stroke-width="0.6"/>
<path d="M690.0,201.7L705.3,217.5L720.6,201.7M705.3,201.7L705.3,217.5" fill="none" stroke="#8a8a8a" stroke-width="0.6"/>
<line x1="614.2" y1="153.7" x2="614.2" y2="219.6" stroke="#8c8c8c" stroke-width="0.9"/>
<rect x="703.0" y="248.0" width="38.0" height="10.5" fill="none" stroke="#8a8a8a" stroke-width="0.7"/>
<ellipse cx="711.5" cy="253.0" rx="4.2" ry="3" fill="none" stroke="#8a8a8a" stroke-width="0.7"/>
<ellipse cx="731.0" cy="253.0" rx="4.2" ry="3" fill="none" stroke="#8a8a8a" stroke-width="0.7"/>
<g transform="translate(710.0,273.6) rotate(-90)" fill="none" stroke="#8a8a8a" stroke-width="0.7"><rect x="-4.5" y="-6" width="9" height="3.2"/><ellipse cx="0" cy="1.6" rx="3.6" ry="4.6"/></g>
<rect x="704.5" y="301.2" width="35.2" height="18.3" fill="none" stroke="#8a8a8a" stroke-width="0.7"/>
<rect x="706.0" y="302.7" width="32.2" height="15.3" rx="7.7" fill="none" stroke="#8a8a8a" stroke-width="0.7"/>
<rect x="829.7" y="215.0" width="83.3" height="3.0" fill="#d0d0d0" stroke="#7a7a7a" stroke-width="0.7"/>
<rect x="913.6" y="214.0" width="22.6" height="49.6" fill="none" stroke="#8c8c8c" stroke-width="0.9"/>
<line x1="913.6" y1="219.0" x2="936.2" y2="219.0" stroke="#8c8c8c" stroke-width="0.9"/>
<line x1="913.6" y1="223.9" x2="936.2" y2="223.9" stroke="#8c8c8c" stroke-width="0.9"/>
<line x1="913.6" y1="228.9" x2="936.2" y2="228.9" stroke="#8c8c8c" stroke-width="0.9"/>
<line x1="913.6" y1="233.8" x2="936.2" y2="233.8" stroke="#8c8c8c" stroke-width="0.9"/>
<line x1="913.6" y1="238.8" x2="936.2" y2="238.8" stroke="#8c8c8c" stroke-width="0.9"/>
<line x1="913.6" y1="243.8" x2="936.2" y2="243.8" stroke="#8c8c8c" stroke-width="0.9"/>
<line x1="913.6" y1="248.7" x2="936.2" y2="248.7" stroke="#8c8c8c" stroke-width="0.9"/>
<line x1="913.6" y1="253.7" x2="936.2" y2="253.7" stroke="#8c8c8c" stroke-width="0.9"/>
<line x1="913.6" y1="258.6" x2="936.2" y2="258.6" stroke="#8c8c8c" stroke-width="0.9"/>
<polyline points="696.2,85.8 696.2,64.7 788.0,64.7 788.0,186.6" fill="none" stroke="#000" stroke-width="4.8" stroke-linejoin="miter" stroke-miterlimit="2.2" stroke-linecap="square"/>
<polyline points="788.0,95.0 907.8,95.0 907.8,185.0 939.1,185.0 939.1,217.0" fill="none" stroke="#000" stroke-width="4.8" stroke-linejoin="miter" stroke-miterlimit="2.2" stroke-linecap="square"/>
<polyline points="696.2,85.8 599.9,85.8 599.9,305.8 702.1,305.8 702.1,241.5" fill="none" stroke="#000" stroke-width="4.8" stroke-linejoin="miter" stroke-miterlimit="2.2" stroke-linecap="square"/>
<polyline points="702.1,305.8 702.1,322.2 741.7,322.2" fill="none" stroke="#000" stroke-width="3.6" stroke-linejoin="miter" stroke-miterlimit="2.2" stroke-linecap="square"/>
<polyline points="741.7,285.0 741.7,332.7 829.0,332.7 829.0,215.3" fill="none" stroke="#000" stroke-width="4.8" stroke-linejoin="miter" stroke-miterlimit="2.2" stroke-linecap="square"/>
<polyline points="741.7,246.4 741.7,264.0" fill="none" stroke="#000" stroke-width="3.2" stroke-linejoin="miter" stroke-miterlimit="2.2" stroke-linecap="butt"/>
<polyline points="702.1,246.4 741.7,246.4 753.5,235.7" fill="none" stroke="#000" stroke-width="3.2" stroke-linejoin="miter" stroke-miterlimit="2.2" stroke-linecap="butt"/>
<polyline points="766.7,222.2 772.8,214.5 829.0,214.5" fill="none" stroke="#000" stroke-width="3.2" stroke-linejoin="miter" stroke-miterlimit="2.2" stroke-linecap="butt"/>
<polyline points="772.8,214.5 789.6,229.6 793.6,229.6" fill="none" stroke="#000" stroke-width="3.2" stroke-linejoin="miter" stroke-miterlimit="2.2" stroke-linecap="butt"/>
<polyline points="602.0,220.4 629.0,220.4" fill="none" stroke="#000" stroke-width="3.2" stroke-linejoin="miter" stroke-miterlimit="2.2" stroke-linecap="butt"/>
<polyline points="646.4,220.4 650.6,220.4" fill="none" stroke="#000" stroke-width="3.2" stroke-linejoin="miter" stroke-miterlimit="2.2" stroke-linecap="butt"/>
<polyline points="668.9,220.4 736.5,220.4 743.9,212.8" fill="none" stroke="#000" stroke-width="3.2" stroke-linejoin="miter" stroke-miterlimit="2.2" stroke-linecap="butt"/>
<polyline points="649.4,152.0 649.4,221.6" fill="none" stroke="#000" stroke-width="3.2" stroke-linejoin="miter" stroke-miterlimit="2.2" stroke-linecap="butt"/>
<polyline points="602.0,152.0 627.3,152.0" fill="none" stroke="#000" stroke-width="3.2" stroke-linejoin="miter" stroke-miterlimit="2.2" stroke-linecap="butt"/>
<polyline points="646.4,152.0 700.5,152.0" fill="none" stroke="#000" stroke-width="3.2" stroke-linejoin="miter" stroke-miterlimit="2.2" stroke-linecap="butt"/>
<polyline points="696.5,85.8 696.5,152.0" fill="none" stroke="#000" stroke-width="3.2" stroke-linejoin="miter" stroke-miterlimit="2.2" stroke-linecap="butt"/>
<polyline points="687.5,152.0 687.5,221.0" fill="none" stroke="#000" stroke-width="3.0" stroke-linejoin="miter" stroke-miterlimit="2.2" stroke-linecap="butt"/>
<polyline points="718.4,152.0 738.5,152.0 747.2,161.1" fill="none" stroke="#000" stroke-width="3.2" stroke-linejoin="miter" stroke-miterlimit="2.2" stroke-linecap="butt"/>
<polyline points="724.2,152.0 724.2,220.4" fill="none" stroke="#000" stroke-width="3.0" stroke-linejoin="miter" stroke-miterlimit="2.2" stroke-linecap="butt"/>
<polyline points="724.2,192.4 765.4,192.4 758.0,199.4" fill="none" stroke="#000" stroke-width="3.0" stroke-linejoin="miter" stroke-miterlimit="2.2" stroke-linecap="butt"/>
<polyline points="760.7,173.9 764.7,177.2 764.7,186.6 768.0,186.6" fill="none" stroke="#000" stroke-width="2.8" stroke-linejoin="miter" stroke-miterlimit="2.2" stroke-linecap="butt"/>
<polyline points="788.0,152.0 883.4,152.0" fill="none" stroke="#000" stroke-width="3.2" stroke-linejoin="miter" stroke-miterlimit="2.2" stroke-linecap="butt"/>
<polyline points="902.2,152.0 907.8,152.0" fill="none" stroke="#000" stroke-width="3.2" stroke-linejoin="miter" stroke-miterlimit="2.2" stroke-linecap="butt"/>
<polyline points="753.3,236.3 742.5,245.0" fill="none" stroke="#000" stroke-width="3.2" stroke-linejoin="miter" stroke-miterlimit="2.2" stroke-linecap="butt"/>
<g transform="translate(599.9,238.7) rotate(90.00)"><rect x="-9.1" y="-2.40" width="18.2" height="4.80" fill="#fff" stroke="none"/><rect x="-8.8" y="-2.05" width="17.6" height="4.10" fill="#f2f2f2" stroke="#8c8c8c" stroke-width="0.7"/><line x1="-8.1" y1="-0.2" x2="8.1" y2="-0.2" stroke="#707070" stroke-width="1.0"/></g>
<g transform="translate(599.9,283.5) rotate(90.00)"><rect x="-8.5" y="-2.40" width="17.0" height="4.80" fill="#fff" stroke="none"/><rect x="-8.2" y="-2.05" width="16.4" height="4.10" fill="#f2f2f2" stroke="#8c8c8c" stroke-width="0.7"/><line x1="-7.5" y1="-0.2" x2="7.5" y2="-0.2" stroke="#707070" stroke-width="1.0"/></g>
<g transform="translate(732.0,64.7) rotate(0.00)"><rect x="-10.1" y="-2.40" width="20.1" height="4.80" fill="#fff" stroke="none"/><rect x="-9.8" y="-2.05" width="19.5" height="4.10" fill="#f2f2f2" stroke="#8c8c8c" stroke-width="0.7"/><line x1="-9.1" y1="-0.2" x2="9.1" y2="-0.2" stroke="#707070" stroke-width="1.0"/></g>
<g transform="translate(752.1,64.7) rotate(0.00)"><rect x="-10.1" y="-2.40" width="20.2" height="4.80" fill="#fff" stroke="none"/><rect x="-9.8" y="-2.05" width="19.6" height="4.10" fill="#f2f2f2" stroke="#8c8c8c" stroke-width="0.7"/><line x1="-9.1" y1="-0.2" x2="9.1" y2="-0.2" stroke="#707070" stroke-width="1.0"/></g>
<g transform="translate(774.6,332.7) rotate(0.00)"><rect x="-9.4" y="-2.40" width="18.8" height="4.80" fill="#fff" stroke="none"/><rect x="-9.1" y="-2.05" width="18.2" height="4.10" fill="#f2f2f2" stroke="#8c8c8c" stroke-width="0.7"/><line x1="-8.4" y1="-0.2" x2="8.4" y2="-0.2" stroke="#707070" stroke-width="1.0"/></g>
<g transform="translate(794.8,332.7) rotate(0.00)"><rect x="-9.4" y="-2.40" width="18.8" height="4.80" fill="#fff" stroke="none"/><rect x="-9.1" y="-2.05" width="18.2" height="4.10" fill="#f2f2f2" stroke="#8c8c8c" stroke-width="0.7"/><line x1="-8.4" y1="-0.2" x2="8.4" y2="-0.2" stroke="#707070" stroke-width="1.0"/></g>
<path d="M646.4,152.0 L646.4,169.0 A17.0,17.0 0 0 1 627.3,152.0" fill="none" stroke="#8a8a8a" stroke-width="0.8"/>
<path d="M648.4,220.4 L648.4,203.0 A17.4,17.4 0 0 0 629.3,220.4" fill="none" stroke="#8a8a8a" stroke-width="0.8"/>
<path d="M650.6,220.4 L650.6,202.5 A17.9,17.9 0 0 1 668.9,220.4" fill="none" stroke="#8a8a8a" stroke-width="0.8"/>
<path d="M718.4,152.0 L718.4,169.0 A17.0,17.0 0 0 1 700.5,152.0" fill="none" stroke="#8a8a8a" stroke-width="0.8"/>
<path d="M702.1,221.5 L684.5,221.5 A17.6,17.6 0 0 0 702.1,240.5" fill="none" stroke="#8a8a8a" stroke-width="0.8"/>
<path d="M741.7,283.0 L724.2,283.0 A17.5,17.5 0 0 1 741.7,264.5" fill="none" stroke="#8a8a8a" stroke-width="0.8"/>
<path d="M902.2,152.0 L902.2,169.5 A17.5,17.5 0 0 1 883.4,152.0" fill="none" stroke="#8a8a8a" stroke-width="0.8"/>
<path d="M761.0,174.0 L771.8,162.2 A16.0,16.0 0 0 0 747.2,161.1" fill="none" stroke="#8a8a8a" stroke-width="0.8"/>
<path d="M787.0,186.6 L787.0,169.5 A17.1,17.1 0 0 0 769.0,186.6" fill="none" stroke="#8a8a8a" stroke-width="0.8"/>
<path d="M743.9,212.8 L756.0,223.5 A16.2,16.2 0 0 0 758.0,199.4" fill="none" stroke="#8a8a8a" stroke-width="0.8"/>
<path d="M766.7,222.2 L778.2,233.8 A16.3,16.3 0 0 1 753.3,236.3" fill="none" stroke="#8a8a8a" stroke-width="0.8"/>
<path d="M793.4,229.5 L793.4,245.0 A15.5,15.5 0 0 0 809.5,229.5" fill="none" stroke="#8a8a8a" stroke-width="0.8"/>
<path d="M825.6,229.5 L825.6,245.0 A15.5,15.5 0 0 1 809.5,229.5" fill="none" stroke="#8a8a8a" stroke-width="0.8"/>
<text x="797.4" y="63.0" font-size="18.7" font-weight="bold" text-anchor="start" fill="#111">Second Floor</text>
<text x="647.9" y="110.9" font-size="14" font-weight="bold" text-anchor="middle" fill="#111">Eaved</text>
<text x="647.9" y="125.0" font-size="14" font-weight="bold" text-anchor="middle" fill="#111">Storage</text>
<text x="647.9" y="137.8" font-size="11.8" font-weight="normal" text-anchor="middle" fill="#111">9' x 13'6&quot;</text>
<text x="741.5" y="103.4" font-size="14" font-weight="bold" text-anchor="middle" fill="#111">Bedroom</text>
<text x="741.5" y="115.0" font-size="11.8" font-weight="normal" text-anchor="middle" fill="#111">12'1&quot; x 12'9&quot;</text>
<text x="849.2" y="116.2" font-size="14" font-weight="bold" text-anchor="middle" fill="#111">Eaved</text>
<text x="849.2" y="130.3" font-size="14" font-weight="bold" text-anchor="middle" fill="#111">Storage</text>
<text x="849.2" y="142.5" font-size="11.8" font-weight="normal" text-anchor="middle" fill="#111">7'10&quot; x 16'9&quot;</text>
<text x="623.7" y="180.8" font-size="12.6" font-weight="bold" text-anchor="middle" fill="#111">WIC</text>
<text x="623.7" y="192.3" font-size="11" font-weight="normal" text-anchor="middle" fill="#111">9'6&quot; x 6'8&quot;</text>
<text x="650.9" y="257.8" font-size="14" font-weight="bold" text-anchor="middle" fill="#111">Bedroom</text>
<text x="650.9" y="269.0" font-size="11.8" font-weight="normal" text-anchor="middle" fill="#111">11'10&quot; x 14'2&quot;</text>
<text x="785.5" y="276.2" font-size="14" font-weight="bold" text-anchor="middle" fill="#111">Bedroom</text>
<text x="786.4" y="288.3" font-size="11.8" font-weight="normal" text-anchor="middle" fill="#111">14'4&quot; x 12'</text>
<rect x="531.3" y="432.0" width="21.3" height="25.0" fill="none" stroke="#8c8c8c" stroke-width="0.9"/>
<line x1="533.0" y1="433.5" x2="533.0" y2="525.5" stroke="#8c8c8c" stroke-width="0.9"/>
<rect x="531.3" y="457.0" width="21.3" height="70.3" fill="none" stroke="#8c8c8c" stroke-width="0.9"/>
<line x1="531.3" y1="461.4" x2="552.6" y2="461.4" stroke="#8c8c8c" stroke-width="0.9"/>
<line x1="531.3" y1="465.8" x2="552.6" y2="465.8" stroke="#8c8c8c" stroke-width="0.9"/>
<line x1="531.3" y1="470.2" x2="552.6" y2="470.2" stroke="#8c8c8c" stroke-width="0.9"/>
<line x1="531.3" y1="474.6" x2="552.6" y2="474.6" stroke="#8c8c8c" stroke-width="0.9"/>
<line x1="531.3" y1="479.0" x2="552.6" y2="479.0" stroke="#8c8c8c" stroke-width="0.9"/>
<line x1="531.3" y1="483.4" x2="552.6" y2="483.4" stroke="#8c8c8c" stroke-width="0.9"/>
<line x1="531.3" y1="487.8" x2="552.6" y2="487.8" stroke="#8c8c8c" stroke-width="0.9"/>
<line x1="531.3" y1="492.1" x2="552.6" y2="492.1" stroke="#8c8c8c" stroke-width="0.9"/>
<line x1="531.3" y1="496.5" x2="552.6" y2="496.5" stroke="#8c8c8c" stroke-width="0.9"/>
<line x1="531.3" y1="500.9" x2="552.6" y2="500.9" stroke="#8c8c8c" stroke-width="0.9"/>
<line x1="531.3" y1="505.3" x2="552.6" y2="505.3" stroke="#8c8c8c" stroke-width="0.9"/>
<line x1="531.3" y1="509.7" x2="552.6" y2="509.7" stroke="#8c8c8c" stroke-width="0.9"/>
<line x1="531.3" y1="514.1" x2="552.6" y2="514.1" stroke="#8c8c8c" stroke-width="0.9"/>
<line x1="531.3" y1="518.5" x2="552.6" y2="518.5" stroke="#8c8c8c" stroke-width="0.9"/>
<line x1="531.3" y1="522.9" x2="552.6" y2="522.9" stroke="#8c8c8c" stroke-width="0.9"/>
<line x1="589.0" y1="431.5" x2="608.5" y2="431.5" stroke="#8c8c8c" stroke-width="0.9"/>
<polyline points="556.6,483.6 567.0,483.6 567.0,575.5 656.0,575.5 656.0,551.1 597.6,551.1 586.7,543.3 586.7,483.6 601.4,483.6 601.4,531.9 608.9,540.1 671.7,540.1 671.7,587.0" fill="none" stroke="#8c8c8c" stroke-width="0.9"/>
<line x1="556.6" y1="483.6" x2="556.6" y2="587.0" stroke="#8c8c8c" stroke-width="0.9"/>
<rect x="730.6" y="450.7" width="2.8" height="37.6" fill="#bdbdbd" stroke="#7a7a7a" stroke-width="0.6"/>
<rect x="730.6" y="538.4" width="2.8" height="36.0" fill="#bdbdbd" stroke="#7a7a7a" stroke-width="0.6"/>
<rect x="847.1" y="478.7" width="12.9" height="29.0" fill="none" stroke="#8c8c8c" stroke-width="0.9"/>
<rect x="807.5" y="579.0" width="13.0" height="16.5" fill="none" stroke="#8a8a8a" stroke-width="0.7"/>
<ellipse cx="813.5" cy="587.0" rx="3.2" ry="4.5" fill="none" stroke="#8a8a8a" stroke-width="0.7"/>
<g transform="translate(813.5,610.5) rotate(90)" fill="none" stroke="#8a8a8a" stroke-width="0.7"><rect x="-4.5" y="-6" width="9" height="3.2"/><ellipse cx="0" cy="1.6" rx="3.6" ry="4.6"/></g>
<rect x="782.5" y="622.7" width="38.0" height="16.6" fill="none" stroke="#8a8a8a" stroke-width="0.7"/>
<rect x="784.0" y="624.2" width="35.0" height="13.6" rx="6.8" fill="none" stroke="#8a8a8a" stroke-width="0.7"/>
<rect x="839.0" y="577.5" width="23.3" height="40.7" fill="none" stroke="#8c8c8c" stroke-width="0.9"/>
<line x1="839.0" y1="582.6" x2="862.3" y2="582.6" stroke="#8c8c8c" stroke-width="0.9"/>
<line x1="839.0" y1="587.7" x2="862.3" y2="587.7" stroke="#8c8c8c" stroke-width="0.9"/>
<line x1="839.0" y1="592.8" x2="862.3" y2="592.8" stroke="#8c8c8c" stroke-width="0.9"/>
<line x1="839.0" y1="597.9" x2="862.3" y2="597.9" stroke="#8c8c8c" stroke-width="0.9"/>
<line x1="839.0" y1="602.9" x2="862.3" y2="602.9" stroke="#8c8c8c" stroke-width="0.9"/>
<line x1="839.0" y1="608.0" x2="862.3" y2="608.0" stroke="#8c8c8c" stroke-width="0.9"/>
<line x1="839.0" y1="613.1" x2="862.3" y2="613.1" stroke="#8c8c8c" stroke-width="0.9"/>
<polyline points="552.8,437.2 552.8,432.0 586.4,432.0 586.4,419.7 610.6,419.7 610.6,432.0 654.5,432.0 654.5,413.8 678.3,389.1 709.7,389.1 733.6,412.6 733.6,447.2 877.3,447.2 877.3,548.5" fill="none" stroke="#000" stroke-width="4.8" stroke-linejoin="miter" stroke-miterlimit="2.2" stroke-linecap="square"/>
<polyline points="877.3,447.2 877.3,439.1 902.8,412.6 936.7,412.6 964.0,439.1 964.0,464.9 1006.9,464.9 1006.9,694.0 885.7,694.0 885.7,576.0" fill="none" stroke="#000" stroke-width="4.8" stroke-linejoin="miter" stroke-miterlimit="2.2" stroke-linecap="square"/>
<polyline points="877.3,564.0 877.3,576.0 885.7,576.0" fill="none" stroke="#000" stroke-width="4.2" stroke-linejoin="miter" stroke-miterlimit="2.2" stroke-linecap="butt"/>
<polyline points="553.6,456.0 553.6,481.5" fill="none" stroke="#000" stroke-width="2.6" stroke-linejoin="miter" stroke-miterlimit="2.2" stroke-linecap="butt"/>
<g transform="translate(553.6,470.6) rotate(90.00)"><rect x="-10.7" y="-1.40" width="21.3" height="2.80" fill="#fff" stroke="none"/><rect x="-10.4" y="-1.05" width="20.7" height="2.10" fill="#f2f2f2" stroke="#8c8c8c" stroke-width="0.7"/><line x1="-9.7" y1="-0.2" x2="9.7" y2="-0.2" stroke="#707070" stroke-width="1.0"/></g>
<polyline points="553.2,481.5 553.2,589.0 694.5,589.0 694.5,687.4 782.2,687.4 782.2,598.5" fill="none" stroke="#000" stroke-width="4.8" stroke-linejoin="miter" stroke-miterlimit="2.2" stroke-linecap="square"/>
<polyline points="694.5,589.0 694.5,576.5 745.4,576.5" fill="none" stroke="#000" stroke-width="4.8" stroke-linejoin="miter" stroke-miterlimit="2.2" stroke-linecap="butt"/>
<polyline points="762.4,576.5 787.4,576.5" fill="none" stroke="#000" stroke-width="4.8" stroke-linejoin="miter" stroke-miterlimit="2.2" stroke-linecap="butt"/>
<polyline points="782.2,576.5 782.2,580.0" fill="none" stroke="#000" stroke-width="4.2" stroke-linejoin="miter" stroke-miterlimit="2.2" stroke-linecap="butt"/>
<polyline points="805.0,576.3 836.2,576.3 836.2,620.5 864.6,620.5 864.6,576.3 886.0,576.3" fill="none" stroke="#000" stroke-width="4.2" stroke-linejoin="miter" stroke-miterlimit="2.2" stroke-linecap="square"/>
<polyline points="822.3,576.3 822.3,641.6 782.2,641.6" fill="none" stroke="#000" stroke-width="4.2" stroke-linejoin="miter" stroke-miterlimit="2.2" stroke-linecap="square"/>
<polyline points="741.0,576.5 741.0,599.7 736.0,599.7" fill="none" stroke="#000" stroke-width="3.0" stroke-linejoin="miter" stroke-miterlimit="2.2" stroke-linecap="butt"/>
<polyline points="696.6,599.7 701.5,599.7" fill="none" stroke="#000" stroke-width="3.0" stroke-linejoin="miter" stroke-miterlimit="2.2" stroke-linecap="butt"/>
<polyline points="877.3,472.9 860.8,472.9 860.8,481.0 864.8,481.0 864.8,502.3 860.8,502.3 860.8,515.8 877.3,515.8" fill="none" stroke="#000" stroke-width="3.0" stroke-linejoin="miter" stroke-miterlimit="2.2" stroke-linecap="butt"/>
<g transform="translate(922.4,412.6) rotate(0.00)"><rect x="-9.9" y="-2.40" width="19.8" height="4.80" fill="#fff" stroke="none"/><rect x="-9.6" y="-2.05" width="19.2" height="4.10" fill="#f2f2f2" stroke="#8c8c8c" stroke-width="0.7"/><line x1="-8.9" y1="-0.2" x2="8.9" y2="-0.2" stroke="#707070" stroke-width="1.0"/></g>
<g transform="translate(1006.9,604.2) rotate(90.00)"><rect x="-11.8" y="-2.40" width="23.5" height="4.80" fill="#fff" stroke="none"/><rect x="-11.4" y="-2.05" width="22.9" height="4.10" fill="#f2f2f2" stroke="#8c8c8c" stroke-width="0.7"/><line x1="-10.8" y1="-0.2" x2="10.8" y2="-0.2" stroke="#707070" stroke-width="1.0"/></g>
<g transform="translate(1006.9,667.8) rotate(90.00)"><rect x="-8.8" y="-2.40" width="17.5" height="4.80" fill="#fff" stroke="none"/><rect x="-8.4" y="-2.05" width="16.9" height="4.10" fill="#f2f2f2" stroke="#8c8c8c" stroke-width="0.7"/><line x1="-7.8" y1="-0.2" x2="7.8" y2="-0.2" stroke="#707070" stroke-width="1.0"/></g>
<path d="M554.6,438.2 L570.0,438.2 A15.4,15.4 0 0 1 554.6,455.8" fill="none" stroke="#8a8a8a" stroke-width="0.8"/>
<path d="M745.4,576.5 L745.4,593.5 A17.0,17.0 0 0 0 762.4,576.5" fill="none" stroke="#8a8a8a" stroke-width="0.8"/>
<path d="M805.0,576.3 L805.0,559.0 A17.3,17.3 0 0 0 787.4,576.3" fill="none" stroke="#8a8a8a" stroke-width="0.8"/>
<path d="M782.2,597.5 L799.0,597.5 A16.8,16.8 0 0 0 782.2,580.5" fill="none" stroke="#8a8a8a" stroke-width="0.8"/>
<path d="M877.3,548.5 L862.0,548.5 A15.3,15.3 0 0 0 877.3,564.0" fill="none" stroke="#8a8a8a" stroke-width="0.8"/>
<path d="M701.5,600.0 L701.5,615.5 A15.5,15.5 0 0 0 718.9,600.0" fill="none" stroke="#8a8a8a" stroke-width="0.8"/>
<path d="M736.3,600.0 L736.3,615.5 A15.5,15.5 0 0 1 718.9,600.0" fill="none" stroke="#8a8a8a" stroke-width="0.8"/>
<text x="754.0" y="413.2" font-size="18.7" font-weight="bold" text-anchor="start" fill="#111">Lower Level</text>
<text x="646.4" y="493.1" font-size="14" font-weight="bold" text-anchor="middle" fill="#111">Game</text>
<text x="646.4" y="507.2" font-size="14" font-weight="bold" text-anchor="middle" fill="#111">Room</text>
<text x="646.4" y="519.5" font-size="11.8" font-weight="normal" text-anchor="middle" fill="#111">26'4&quot; x 25'3&quot;</text>
<text x="805.6" y="502.4" font-size="14" font-weight="bold" text-anchor="middle" fill="#111">Rec</text>
<text x="805.6" y="516.8" font-size="14" font-weight="bold" text-anchor="middle" fill="#111">Room</text>
<text x="805.6" y="528.4" font-size="11.8" font-weight="normal" text-anchor="middle" fill="#111">18' x 46'2&quot;</text>
<text x="948.0" y="544.4" font-size="14" font-weight="bold" text-anchor="middle" fill="#111">Workshop/</text>
<text x="948.0" y="558.5" font-size="14" font-weight="bold" text-anchor="middle" fill="#111">Storage/</text>
<text x="948.0" y="572.6" font-size="14" font-weight="bold" text-anchor="middle" fill="#111">Mech.</text>
<text x="948.0" y="585.4" font-size="11.8" font-weight="normal" text-anchor="middle" fill="#111">36'3&quot; x 16'9&quot;</text>
<text x="738.2" y="637.2" font-size="14" font-weight="bold" text-anchor="middle" fill="#111">Exercise</text>
<text x="738.2" y="651.3" font-size="14" font-weight="bold" text-anchor="middle" fill="#111">Room</text>
<text x="738.2" y="663.2" font-size="11.8" font-weight="normal" text-anchor="middle" fill="#111">15'8&quot; x 12'</text>
<text x="1023.5" y="743.2" font-size="5.3" font-weight="normal" text-anchor="end" fill="#a0a0a0">SmartMLS, Inc. 2025</text>
</svg>
</body></html>
